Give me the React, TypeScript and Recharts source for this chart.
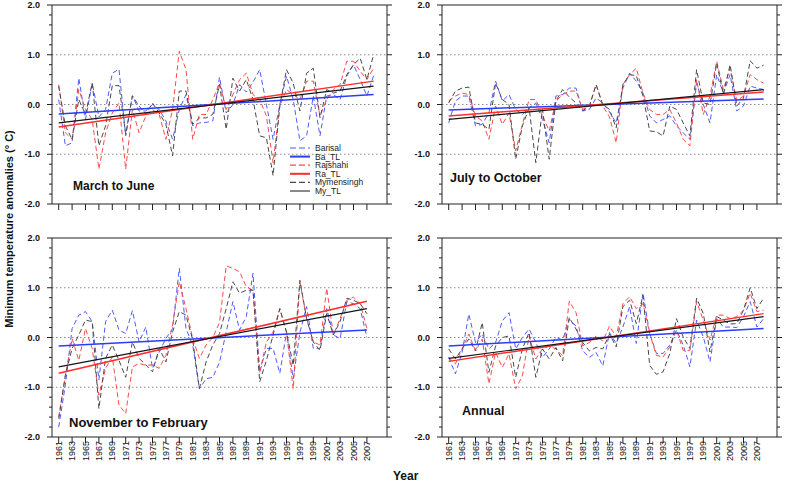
import React from 'react';
import { LineChart, Line, XAxis, YAxis, ReferenceLine } from 'recharts';

// Years 1961-2008 (Nov-Feb series stop at 2007)
const years = Array.from({ length: 48 }, (_, i) => 1961 + i);
const tickYears = Array.from({ length: 24 }, (_, i) => 1961 + i * 2);
const yTicks = Array.from({ length: 21 }, (_, i) => Math.round((-2 + i * 0.2) * 10) / 10);

// March to June
const mjBarisal = [0.1, -0.83, -0.77, 0.53, -0.3, 0.43, -0.25, -0.1, 0.63, 0.71, -0.63, 0.18, -0.13, -0.13, 0.0, -0.1, -0.33, -0.7, -0.1, 0.2, -0.43, -0.37, -0.36, -0.33, 0.55, -0.17, 0.0, 0.4, 0.25, 0.45, 0.7, 0.0, -0.7, 0.0, 0.57, 0.1, -0.73, -0.63, 0.17, -0.63, 0.17, 0.2, 0.1, 0.57, 0.8, 0.5, 0.17, 0.58];
const mjRajshahi = [0.4, -0.57, -0.7, 0.3, -0.1, -0.3, -1.3, -0.57, -0.17, 0.03, -1.3, -0.1, -0.57, -0.23, -0.1, -0.2, -0.7, -0.1, 1.07, 0.7, -0.7, -0.2, -0.2, 0.1, 0.43, -0.1, 0.2, 0.5, 0.63, 0.2, 0.1, -0.23, -1.17, -0.03, 0.3, 0.2, 0.1, 0.47, 0.47, -0.23, 0.1, 0.3, 0.4, 0.87, 0.87, 0.67, 0.5, 0.73];
const mjMymensingh = [0.37, -0.43, -0.7, 0.1, -0.2, 0.43, -0.83, -0.43, 0.38, 0.38, -0.6, 0.17, -0.03, -0.2, 0.03, -0.17, -0.4, -1.03, 0.27, 0.27, -0.4, -0.27, -0.27, -0.2, 0.4, -0.5, 0.53, 0.27, 0.5, 0.1, -0.63, -0.67, -1.43, -0.03, 0.7, 0.43, -0.13, 0.63, 0.73, -0.27, 0.3, 0.23, 0.27, 0.6, 0.8, 0.93, 0.5, 1.0];

// July to October
const joBarisal = [-0.37, 0.07, 0.17, 0.17, -0.43, -0.4, -0.17, 0.47, 0.07, 0.2, -0.1, -0.2, -0.07, 0.03, -0.3, -0.77, 0.17, 0.2, 0.33, 0.33, -0.13, -0.1, 0.13, 0.03, -0.15, -0.37, 0.33, 0.63, 0.47, 0.23, -0.23, -0.37, -0.3, -0.23, -0.43, -0.57, -0.7, 0.43, 0.0, -0.37, 0.6, 0.23, 0.6, -0.13, -0.03, 0.37, 0.33, 0.3];
const joRajshahi = [0.07, 0.17, 0.23, 0.2, -0.23, -0.33, -0.7, -0.03, -0.4, -0.17, -0.93, -0.4, 0.1, 0.1, -0.23, -0.53, 0.07, 0.2, 0.27, 0.27, -0.1, -0.03, 0.4, -0.03, -0.25, -0.77, 0.4, 0.6, 0.73, 0.23, -0.1, -0.2, -0.2, -0.1, -0.37, -0.7, -0.83, 0.5, -0.2, 0.17, 0.87, 0.3, 0.73, 0.07, 0.17, 0.6, 0.5, 0.43];
const joMymensingh = [0.03, 0.27, 0.33, 0.35, -0.37, -0.4, -0.5, 0.43, 0.1, 0.0, -1.1, -0.43, -0.07, -1.17, -0.1, -1.1, 0.07, 0.3, 0.15, 0.03, -0.13, -0.03, 0.4, 0.0, -0.1, -0.47, 0.4, 0.6, 0.58, 0.17, -0.53, -0.55, -0.63, -0.03, -0.1, -0.37, -0.63, 0.7, 0.03, 0.0, 0.83, 0.2, 0.8, -0.03, 0.13, 0.88, 0.73, 0.79];

// November to February
const nfBarisal = [-1.8, -0.95, 0.18, 0.45, 0.52, 0.32, -0.85, 0.32, 0.55, 0.15, 0.08, 0.54, -0.09, 0.21, -0.62, -0.29, -0.02, 0.18, 1.39, 0.18, -0.15, -1.03, -0.83, -0.8, -0.5, 0.11, 0.72, 0.15, 0.42, 1.29, -0.69, -0.22, -0.22, -0.72, 0.11, -0.83, 0.1, 0.62, -0.22, -0.22, 0.58, 0.05, -0.02, 0.72, 0.68, 0.58, 0.0];
const nfRajshahi = [-1.6, -0.76, -0.02, -0.46, 0.18, -0.22, -1.16, -0.62, -0.39, -1.36, -1.53, -0.59, -0.52, -0.56, -0.55, -0.62, -0.36, 0.25, 1.12, 0.58, -0.02, -0.42, -0.15, 0.0, 0.3, 1.44, 1.39, 1.32, 1.02, 0.95, -0.7, -0.09, 0.11, 0.58, 0.1, -1.03, 1.12, 0.38, -0.09, -0.15, 0.99, 0.05, 0.38, 0.75, 0.81, 0.68, 0.18];
const nfMymensingh = [-1.63, -0.76, -0.22, 0.05, 0.35, 0.32, -1.43, -0.42, -0.15, -0.46, -0.8, -0.09, -0.42, -0.55, -0.69, -0.22, -0.49, 0.11, 0.52, 0.45, -0.05, -1.03, -0.49, -0.15, 0.08, 0.58, 1.12, 0.89, 0.95, 0.95, -0.89, -0.46, 0.05, 0.58, 0.11, -0.56, 1.15, 0.38, -0.09, -0.26, 0.48, 0.05, 0.32, 0.79, 0.75, 0.68, 0.48];

// Annual
const anBarisal = [-0.4, -0.73, -0.3, 0.47, -0.1, 0.07, -0.23, -0.1, 0.33, 0.5, -0.23, 0.0, 0.17, -0.1, -0.4, -0.23, 0.0, -0.05, 0.37, 0.23, -0.27, -0.4, -0.3, -0.57, 0.1, -0.12, 0.21, 0.62, -0.12, 0.89, 0.08, -0.32, -0.32, -0.15, 0.15, -0.15, -0.59, 0.35, 0.01, -0.49, 0.38, 0.21, 0.21, 0.2, 0.42, 0.72, 0.21, 0.38];
const anRajshahi = [-0.4, -0.53, -0.23, 0.07, -0.27, -0.03, -0.93, -0.3, -0.6, -0.33, -1.03, -0.77, 0.03, -0.43, -0.23, -0.17, -0.23, -0.37, 0.73, 0.5, -0.17, -0.1, 0.03, -0.07, 0.23, 0.01, 0.68, 0.82, 0.58, 0.68, 0.08, -0.36, -0.39, -0.19, 0.15, -0.26, -0.26, 0.72, 0.35, -0.05, 0.45, 0.45, 0.38, 0.42, 0.55, 0.89, 0.52, 0.55];
const anMymensingh = [-0.23, -0.43, -0.23, -0.03, -0.27, 0.3, -0.7, -0.17, 0.0, 0.03, -0.8, -0.23, 0.1, -0.8, -0.23, -0.43, -0.2, -0.47, 0.4, 0.17, -0.1, -0.27, -0.2, -0.23, 0.07, -0.19, 0.62, 0.75, 0.28, 0.85, -0.56, -0.74, -0.69, -0.32, 0.38, 0.01, -0.22, 0.79, 0.48, -0.29, 0.42, 0.35, 0.27, 0.28, 0.55, 1.0, 0.58, 0.79];

// Trend lines: value at first and last year
const mjTrend = { ba: [-0.19, 0.2], ra: [-0.45, 0.47], my: [-0.37, 0.37] };
const joTrend = { ba: [-0.11, 0.11], ra: [-0.23, 0.25], my: [-0.3, 0.3] };
const nfTrend = { ba: [-0.17, 0.15], ra: [-0.72, 0.73], my: [-0.59, 0.58] };
const anTrend = { ba: [-0.17, 0.18], ra: [-0.48, 0.48], my: [-0.42, 0.42] };

const FONT = '"Liberation Sans", Arial, sans-serif';
const C = {
  ba: '#4f5cff',
  baTL: '#2b3cff',
  ra: '#ff4a4a',
  raTL: '#ff2d2d',
  my: '#4a4a4a',
  myTL: '#151515',
  frame: '#222',
};

type Trend = { ba: number[]; ra: number[]; my: number[] };

const makeRows = (ba: number[], ra: number[], my: number[], t: Trend) =>
  ba.map((v, i) => {
    const pick = (p: number[]) => (i === 0 ? p[0] : i === ba.length - 1 ? p[1] : null);
    return { year: years[i], ba: v, ra: ra[i], my: my[i], baTL: pick(t.ba), raTL: pick(t.ra), myTL: pick(t.my) };
  });

const LeftTick = (props: any) => {
  const { x, y, payload } = props;
  const v = payload.value;
  const major = Math.abs(v - Math.round(v)) < 0.001;
  return (
    <g>
      <line x1={x} x2={x - (major ? 5 : 3)} y1={y} y2={y} stroke={C.frame} />
      {major && (
        <text x={x - 12} y={y} dy={3.2} textAnchor="end" fontSize={9} fontWeight="bold" fill="#111" fontFamily={FONT}>
          {v.toFixed(1)}
        </text>
      )}
    </g>
  );
};

const RightTick = (props: any) => {
  const { x, y, payload } = props;
  const v = payload.value;
  const major = Math.abs(v - Math.round(v)) < 0.001;
  return <line x1={x} x2={x + (major ? 5 : 3)} y1={y} y2={y} stroke={C.frame} />;
};

const makeXTick = (labels: boolean) => (props: any) => {
  const { x, y, payload } = props;
  return (
    <g>
      <line x1={x} x2={x} y1={y} y2={y + 6} stroke={C.frame} />
      {labels && (
        <text
          x={x}
          y={y + 4}
          dy={3}
          transform={`rotate(-90, ${x}, ${y + 4})`}
          textAnchor="end"
          fontSize={9}
          fill="#111"
          fontFamily={FONT}
        >
          {payload.value}
        </text>
      )}
    </g>
  );
};

interface PanelProps {
  left: number;
  top: number;
  height: number;
  marginTop: number;
  xHeight: number;
  labels: boolean;
  rows: any[];
}

const Panel = ({ left, top, height, marginTop, xHeight, labels, rows }: PanelProps) => (
  <div style={{ position: 'absolute', left, top }}>
    <LineChart width={396} height={height} data={rows} margin={{ top: marginTop, right: 0, bottom: 0, left: 0 }}>
      <XAxis
        type="number"
        dataKey="year"
        domain={[1960, 2010]}
        ticks={tickYears}
        interval={0}
        allowDataOverflow
        height={xHeight}
        tickSize={0}
        tickMargin={0}
        tickLine={false}
        axisLine={{ stroke: C.frame }}
        tick={makeXTick(labels)}
      />
      <YAxis
        domain={[-2, 2]}
        ticks={yTicks}
        interval={0}
        allowDataOverflow
        width={52}
        tickSize={0}
        tickMargin={0}
        tickLine={false}
        axisLine={{ stroke: C.frame }}
        tick={<LeftTick />}
      />
      <YAxis
        yAxisId="r"
        orientation="right"
        domain={[-2, 2]}
        ticks={yTicks}
        interval={0}
        allowDataOverflow
        width={9}
        tickSize={0}
        tickMargin={0}
        tickLine={false}
        axisLine={{ stroke: C.frame }}
        tick={<RightTick />}
      />
      <ReferenceLine y={2} stroke={C.frame} />
      {[1, 0, -1].map((v) => (
        <ReferenceLine key={v} y={v} stroke="#8a8a8a" strokeDasharray="1.5 2.5" />
      ))}
      <Line dataKey="ba" stroke={C.ba} strokeWidth={1} strokeDasharray="5 3" dot={false} isAnimationActive={false} />
      <Line dataKey="ra" stroke={C.ra} strokeWidth={1} strokeDasharray="5 3" dot={false} isAnimationActive={false} />
      <Line dataKey="my" stroke={C.my} strokeWidth={1} strokeDasharray="5 3" dot={false} isAnimationActive={false} />
      <Line dataKey="baTL" stroke={C.baTL} strokeWidth={1.5} dot={false} connectNulls isAnimationActive={false} />
      <Line dataKey="raTL" stroke={C.raTL} strokeWidth={1.5} dot={false} connectNulls isAnimationActive={false} />
      <Line dataKey="myTL" stroke={C.myTL} strokeWidth={1.2} dot={false} connectNulls isAnimationActive={false} />
    </LineChart>
  </div>
);

const legendItems = [
  { label: 'Barisal', color: C.ba, dash: '6 3', w: 1.2 },
  { label: 'Ba_TL', color: C.baTL, dash: undefined, w: 2 },
  { label: 'Rajshahi', color: C.ra, dash: '6 3', w: 1.2 },
  { label: 'Ra_TL', color: C.raTL, dash: undefined, w: 2 },
  { label: 'Mymensingh', color: C.my, dash: '6 3', w: 1.2 },
  { label: 'My_TL', color: C.myTL, dash: undefined, w: 1 },
];

export default function App() {
  return (
    <div style={{ position: 'absolute', left: 0, top: 0, width: 786, height: 482, background: '#fff', overflow: 'hidden', fontFamily: FONT }}>
      <Panel left={0} top={0} height={230} marginTop={5} xHeight={26} labels={false} rows={makeRows(mjBarisal, mjRajshahi, mjMymensingh, mjTrend)} />
      <Panel left={390} top={0} height={230} marginTop={5} xHeight={26} labels={false} rows={makeRows(joBarisal, joRajshahi, joMymensingh, joTrend)} />
      <Panel left={0} top={220} height={247} marginTop={18} xHeight={30} labels rows={makeRows(nfBarisal, nfRajshahi, nfMymensingh, nfTrend)} />
      <Panel left={390} top={220} height={247} marginTop={18} xHeight={30} labels rows={makeRows(anBarisal, anRajshahi, anMymensingh, anTrend)} />
      <svg width={786} height={482} style={{ position: 'absolute', left: 0, top: 0, pointerEvents: 'none' }} fontFamily={FONT}>
        {legendItems.map((it, i) => {
          const y = 148 + i * 8.6;
          return (
            <g key={it.label}>
              <line x1={290} x2={310} y1={y} y2={y} stroke={it.color} strokeWidth={it.w} strokeDasharray={it.dash} />
              <text x={315} y={y} dy={3} fontSize={8.5} fill="#222">
                {it.label}
              </text>
            </g>
          );
        })}
        <text x={73} y={190} fontSize={12} fontWeight="bold" fill="#111">March to June</text>
        <text x={450} y={182} fontSize={12.5} fontWeight="bold" fill="#111">July to October</text>
        <text x={69} y={427} fontSize={13} fontWeight="bold" fill="#111">November to February</text>
        <text x={462} y={415} fontSize={12.5} fontWeight="bold" fill="#111">Annual</text>
        <text x={13} y={229} transform="rotate(-90, 13, 229)" textAnchor="middle" fontSize={11} fontWeight="bold" fill="#111">
          Minimum temperature anomalies (°  C)
        </text>
        <text x={393} y={480} fontSize={12} fontWeight="bold" fill="#111">Year</text>
      </svg>
    </div>
  );
}
